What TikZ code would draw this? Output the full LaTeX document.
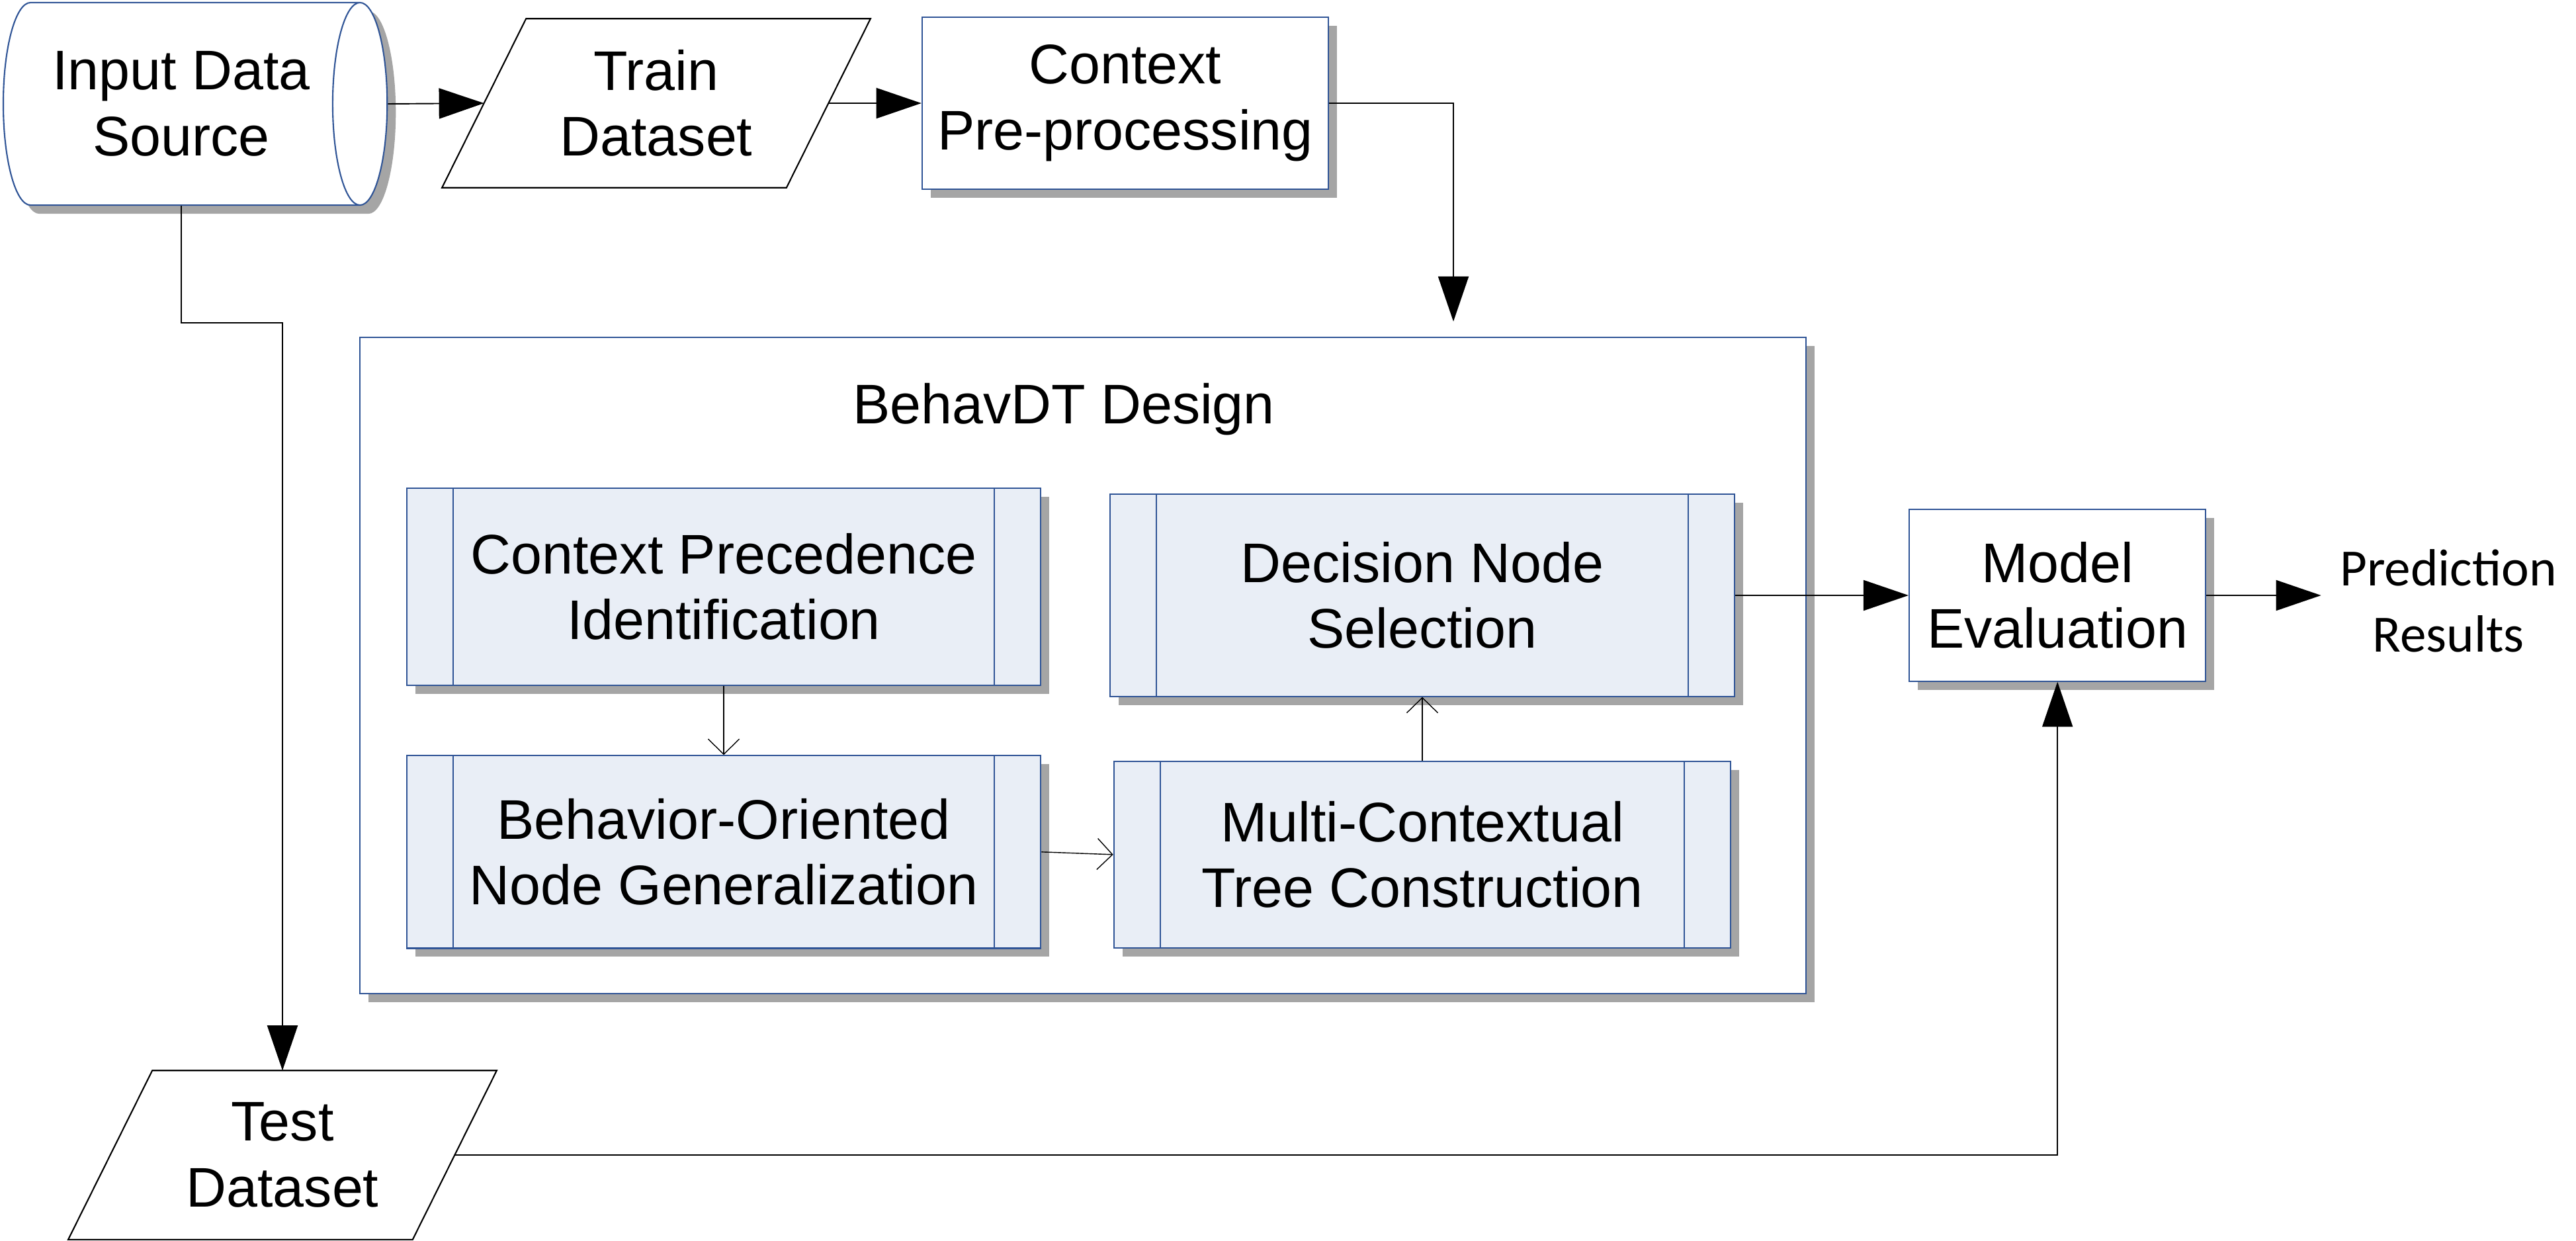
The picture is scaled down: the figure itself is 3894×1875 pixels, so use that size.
\documentclass[tikz,border=0pt]{standalone}
\usepackage{fontspec}
\setmainfont{Liberation Sans}
\newfontfamily\calfont{Carlito}
\usetikzlibrary{shapes.geometric,arrows.meta,positioning,calc,shadows}
\definecolor{visioblue}{RGB}{47, 84, 150}
\definecolor{procfill}{RGB}{233, 238, 246}
\definecolor{shadowgray}{RGB}{165, 165, 165}

\begin{document}
\begin{tikzpicture}[
    x=0.01cm, y=-0.01cm,
    font=\fontsize{24}{28.3}\selectfont,
    every node/.style={align=center, inner sep=0pt},
    vshadow/.style={drop shadow={shadow xshift=0.13cm, shadow yshift=-0.13cm, fill=shadowgray, opacity=1}},
    store/.style={cylinder, shape border rotate=0, shape aspect=0.52, draw=visioblue, line width=0.6pt, fill=white, minimum width=3.06cm, minimum height=5.8cm, vshadow},
    dataio/.style={rectangle, minimum width=5.19cm, minimum height=2.54cm},
    proc/.style={rectangle, draw=visioblue, line width=0.6pt, fill=white, vshadow},
    subproc/.style={rectangle, draw=visioblue, line width=0.6pt, fill=procfill, vshadow,
        path picture={\draw[visioblue, line width=0.6pt]
            ([xshift=0.7cm]path picture bounding box.north west) -- ([xshift=0.7cm]path picture bounding box.south west)
            ([xshift=-0.7cm]path picture bounding box.north east) -- ([xshift=-0.7cm]path picture bounding box.south east);}},
    flow/.style={-{Triangle[length=0.68cm, width=0.46cm]}, line width=0.55pt},
    subflow/.style={-{Straight Barb[length=0.23cm, width=0.47cm]}, line width=0.4pt}
]
    \useasboundingbox (0,0) rectangle (3894,1875);

    % top row
    \node[store] (src) at (274,157) {Input Data\\Source};
    \node[dataio] (train) at (992,156) {Train\\Dataset};
    \node[proc, minimum width=6.14cm, minimum height=2.6cm] (prep) at (1701,156) {Context\\Pre-processing};

    % BehavDT block
    \node[proc, minimum width=21.85cm, minimum height=9.91cm] (frame) at (1637,1006) {};
    \node (title) at (1608,619) {BehavDT Design};
    \node[subproc, minimum width=9.58cm, minimum height=2.98cm] (cpi) at (1094,887) {Context Precedence\\Identification};
    \node[subproc, minimum width=9.58cm, minimum height=2.91cm, below=1.04cm of cpi] (bong) {Behavior-Oriented\\Node Generalization};
    \node[subproc, minimum width=9.43cm, minimum height=3.05cm] (dns) at (2150,900) {Decision Node\\Selection};
    \node[subproc, minimum width=9.32cm, minimum height=2.82cm, below=0.96cm of dns] (mctc) {Multi-Contextual\\Tree Construction};

    % evaluation and output
    \node[proc, minimum width=4.48cm, minimum height=2.59cm, right=2.62cm of dns] (model) {Model\\Evaluation};
    \node[font=\calfont\fontsize{22.5}{28.5}\selectfont, inner xsep=0.28cm] (pred) at (3701,908) {Prediction\\Results};
    \node[dataio] (test) at (427,1746) {Test\\Dataset};

    % slanted data outlines
    \foreach \n in {train,test}
        \draw[line width=0.6pt] ([xshift=-0.635cm]\n.south west) -- ([xshift=0.635cm]\n.north west)
            -- ([xshift=0.635cm]\n.north east) -- ([xshift=-0.635cm]\n.south east) -- cycle;

    \coordinate (drop) at (2197,486);

    \draw[flow] (src.east) -- (train.west);
    \draw[flow] (train.east) -- (prep.west);
    \draw[flow] (prep.east) -| (drop);
    \draw[flow] (src.south) -- ++(0,177) -| (test.north);
    \draw[flow] (test.east) -| (model.south);
    \draw[flow] (dns.east) -- (model.west);
    \draw[flow] (model.east) -- (model.east -| pred.west);

    \draw[subflow] (cpi) -- (bong);
    \draw[subflow] (bong.east) -- (mctc.west);
    \draw[subflow] (mctc) -- (dns);
\end{tikzpicture}
\end{document}
